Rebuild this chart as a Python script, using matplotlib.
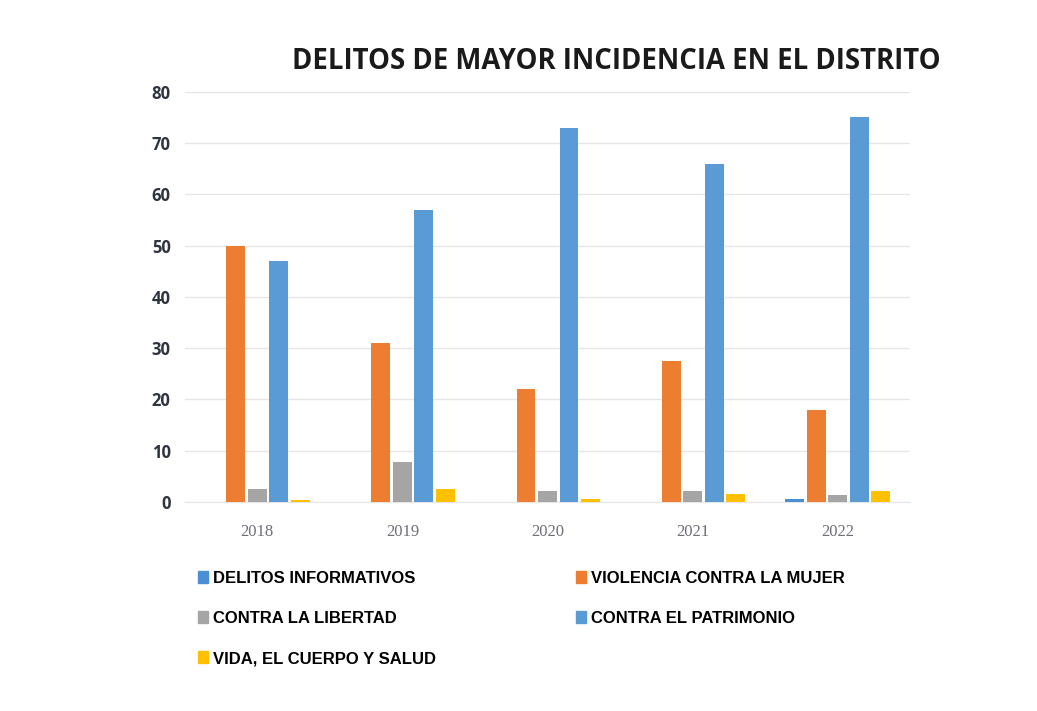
import numpy as np
import matplotlib.pyplot as plt
from matplotlib.patches import Patch

years = ['2018', '2019', '2020', '2021', '2022']
series_names = ['DELITOS INFORMATIVOS', 'VIOLENCIA CONTRA LA MUJER', 'CONTRA LA LIBERTAD',
                'CONTRA EL PATRIMONIO', 'VIDA, EL CUERPO Y SALUD']
delitos_informativos = [0, 0, 0, 0, 0.6]
violencia_mujer = [50, 31, 22, 27.5, 18]
contra_libertad = [2.5, 7.8, 2.2, 2.2, 1.3]
contra_patrimonio = [47, 57, 73, 66, 75]
vida_cuerpo_salud = [0.4, 2.6, 0.5, 1.5, 2.2]
colors = ['#4A8FD4', '#ED7D31', '#A5A5A5', '#5B9BD5', '#FFC000']

values = [delitos_informativos, violencia_mujer, contra_libertad, contra_patrimonio, vida_cuerpo_salud]

fig = plt.figure(figsize=(10.37, 7.11), dpi=100)
ax = fig.add_axes([0.178, 0.294, 0.700, 0.577])

x = np.arange(len(years))
slot = 0.148
width = 0.13
for i, (vals, col) in enumerate(zip(values, colors)):
    ax.bar(x + (i - 2) * slot, vals, width, color=col, zorder=3)

ax.set_xlim(-0.5, 4.5)
ax.set_ylim(0, 80)
ax.set_yticks(range(0, 81, 10))
ax.grid(axis='y', color='#E6E6E6', linewidth=1, zorder=0)
for s in ['top', 'right', 'left']:
    ax.spines[s].set_visible(False)
ax.spines['bottom'].set_color('#E6E6E6')
ax.tick_params(length=0)
ax.tick_params(axis='y', pad=10)
ax.tick_params(axis='x', pad=16)
ax.set_xticks(x)
ax.set_xticklabels(years, family='Liberation Serif', fontsize=12, color='#6E6E78')
for lbl in ax.get_yticklabels():
    lbl.set_fontweight('bold')
    lbl.set_fontsize(12)
    lbl.set_color('#2E3440')
    lbl.set_family('Open Sans')

fig.text(0.594, 0.913, 'DELITOS DE MAYOR INCIDENCIA EN EL DISTRITO', ha='center', va='center',
         fontsize=19.8, fontweight='bold', family='Open Sans', color='#1A1A1A')

handles = [Patch(color=c) for c in colors]
order = [0, 2, 4, 1, 3]
fig.legend([handles[i] for i in order], [series_names[i] for i in order],
           loc='upper left', bbox_to_anchor=(0.176, 0.218), ncol=2, frameon=False,
           handlelength=0.6, handleheight=0.7, handletextpad=0.3,
           labelspacing=1.5, columnspacing=8.4,
           prop={'family': 'Liberation Sans', 'weight': 'bold', 'size': 12})

fig.savefig('out.png', dpi=100)
